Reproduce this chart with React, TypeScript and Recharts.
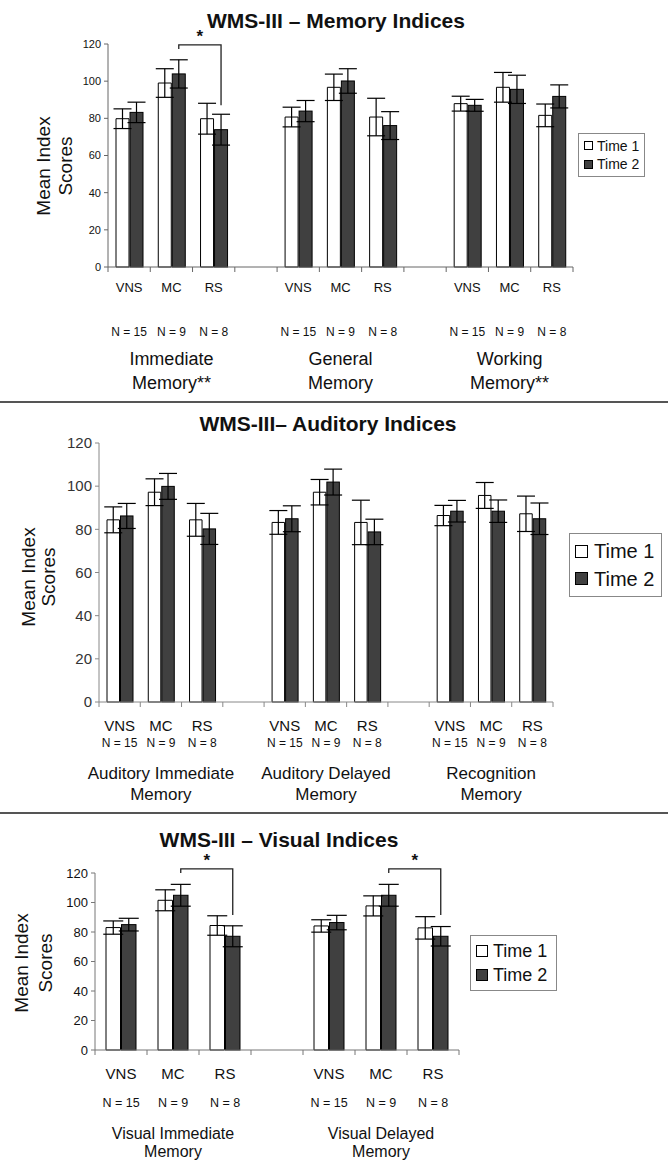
import React from 'react';
import { BarChart, Bar, XAxis, YAxis, ErrorBar, Legend } from 'recharts';

const FONT = 'Arial, "Liberation Sans", Helvetica, sans-serif';
const PAGE_W = 668;
const PAGE_H = 1161;

const categoryNames = ['VNS', 'MC', 'RS'];
const sampleSizes = ['N = 15', 'N = 9', 'N = 8'];
const yTicks = [0, 20, 40, 60, 80, 100, 120];
const seriesNames = ['Time 1', 'Time 2'];

type Bracket = { group: number; top: number; leftEnd: number; rightEnd: number };

// WMS-III Memory Indices
const memoryGroupNames = [['Immediate', 'Memory**'], ['General', 'Memory'], ['Working', 'Memory**']];
const memoryTime1 = [[79.8, 99.0, 79.8], [80.7, 96.7, 80.7], [87.9, 96.7, 81.6]];
const memoryTime2 = [[83.2, 103.9, 73.9], [83.9, 100.1, 76.1], [87.0, 95.6, 91.8]];
const memoryTime1Err = [[5.3, 7.7, 8.3], [5.3, 7.1, 10.1], [4.0, 8.0, 6.1]];
const memoryTime2Err = [[5.5, 7.6, 8.3], [5.7, 6.6, 7.5], [3.2, 7.6, 6.2]];
const memoryBrackets: Bracket[] = [{ group: 0, top: 119.5, leftEnd: 117.3, rightEnd: 87 }];

// WMS-III Auditory Indices
const auditoryGroupNames = [['Auditory Immediate', 'Memory'], ['Auditory Delayed', 'Memory'], ['Recognition', 'Memory']];
const auditoryTime1 = [[84.4, 97.2, 84.4], [83.2, 97.2, 83.2], [86.4, 95.7, 87.2]];
const auditoryTime2 = [[86.2, 99.9, 80.2], [84.9, 101.9, 78.8], [88.4, 88.4, 84.9]];
const auditoryTime1Err = [[6.0, 6.2, 7.6], [5.5, 5.9, 10.3], [4.7, 6.0, 8.2]];
const auditoryTime2Err = [[5.8, 6.0, 7.2], [6.0, 6.0, 5.9], [5.0, 5.2, 7.3]];
const auditoryBrackets: Bracket[] = [];

// WMS-III Visual Indices
const visualGroupNames = [['Visual Immediate', 'Memory'], ['Visual Delayed', 'Memory']];
const visualTime1 = [[83.0, 101.5, 84.4], [84.1, 97.7, 82.8]];
const visualTime2 = [[85.0, 104.9, 77.1], [86.4, 104.9, 77.1]];
const visualTime1Err = [[4.5, 7.1, 6.6], [4.2, 6.8, 7.6]];
const visualTime2Err = [[4.3, 7.4, 7.1], [4.9, 7.4, 6.6]];
const visualBrackets: Bracket[] = [
  { group: 0, top: 122.8, leftEnd: 120, rightEnd: 91.5 },
  { group: 1, top: 122.8, leftEnd: 120, rightEnd: 91.5 },
];

type Row = {
  key: string;
  cat: string;
  n: string;
  group: string[] | null;
  t1: number | null;
  t2: number | null;
  e1: number | null;
  e2: number | null;
  bracket: Bracket | null;
};

function buildRows(
  groupNames: string[][],
  t1: number[][],
  t2: number[][],
  e1: number[][],
  e2: number[][],
  brackets: Bracket[]
): Row[] {
  const rows: Row[] = [];
  groupNames.forEach((g, gi) => {
    categoryNames.forEach((c, ci) => {
      rows.push({
        key: `g${gi}c${ci}`,
        cat: c,
        n: sampleSizes[ci],
        group: ci === 1 ? g : null,
        t1: t1[gi][ci],
        t2: t2[gi][ci],
        e1: e1[gi][ci],
        e2: e2[gi][ci],
        bracket: ci === 1 ? brackets.find((b) => b.group === gi) ?? null : null,
      });
    });
    if (gi < groupNames.length - 1) {
      rows.push({ key: `gap${gi}`, cat: '', n: '', group: null, t1: null, t2: null, e1: null, e2: null, bracket: null });
    }
  });
  return rows;
}

type Cfg = {
  top: number;
  height: number;
  marginTop: number;
  marginRight: number;
  yAxisWidth: number;
  xAxisHeight: number;
  barSize: number;
  capWidth: number;
  axisColor: string;
  yTickFont: number;
  yTickColor: string;
  catFont: number;
  catDy: number;
  nFont: number;
  nDy: number;
  groupFont: number;
  groupDy1: number;
  groupDy2: number;
  legend: { left: number; top: number; width: number; height: number; font: number; marker: number; gap: number };
};

const memoryCfg: Cfg = {
  top: 0, height: 402, marginTop: 44, marginRight: 95, yAxisWidth: 108, xAxisHeight: 135,
  barSize: 13, capWidth: 9, axisColor: '#666', yTickFont: 11, yTickColor: '#111',
  catFont: 13, catDy: 20, nFont: 12, nDy: 65, groupFont: 18, groupDy1: 92, groupDy2: 116,
  legend: { left: 578, top: 133, width: 67, height: 44, font: 14, marker: 9, gap: 4 },
};
const auditoryCfg: Cfg = {
  top: 402, height: 411, marginTop: 41, marginRight: 115, yAxisWidth: 99, xAxisHeight: 111,
  barSize: 12.5, capWidth: 9, axisColor: '#888', yTickFont: 15, yTickColor: '#333',
  catFont: 15, catDy: 23, nFont: 12, nDy: 41, groupFont: 17, groupDy1: 71, groupDy2: 92,
  legend: { left: 569, top: 131, width: 93, height: 64, font: 20, marker: 13, gap: 6 },
};
const visualCfg: Cfg = {
  top: 813, height: 348, marginTop: 60, marginRight: 209, yAxisWidth: 95, xAxisHeight: 111,
  barSize: 14.5, capWidth: 10, axisColor: '#777', yTickFont: 13, yTickColor: '#111',
  catFont: 15, catDy: 23, nFont: 12.5, nDy: 53, groupFont: 16, groupDy1: 83, groupDy2: 101,
  legend: { left: 470, top: 122, width: 87, height: 56, font: 18, marker: 12, gap: 5 },
};

const memoryRows = buildRows(memoryGroupNames, memoryTime1, memoryTime2, memoryTime1Err, memoryTime2Err, memoryBrackets);
const auditoryRows = buildRows(auditoryGroupNames, auditoryTime1, auditoryTime2, auditoryTime1Err, auditoryTime2Err, auditoryBrackets);
const visualRows = buildRows(visualGroupNames, visualTime1, visualTime2, visualTime1Err, visualTime2Err, visualBrackets);

function LegendBox({ cfg }: { cfg: Cfg }) {
  const L = cfg.legend;
  const colors = ['#ffffff', '#404040'];
  return (
    <div
      style={{
        width: L.width,
        height: L.height,
        boxSizing: 'border-box',
        border: '1px solid #888',
        background: '#fff',
        display: 'flex',
        flexDirection: 'column',
        justifyContent: 'space-evenly',
        paddingLeft: 5,
        fontFamily: FONT,
        fontSize: L.font,
        color: '#111',
      }}
    >
      {seriesNames.map((s, i) => (
        <div key={s} style={{ display: 'flex', alignItems: 'center', lineHeight: 1 }}>
          <span
            style={{
              display: 'inline-block',
              width: L.marker,
              height: L.marker,
              boxSizing: 'border-box',
              border: '1px solid #000',
              background: colors[i],
              marginRight: L.gap,
            }}
          />
          <span>{s}</span>
        </div>
      ))}
    </div>
  );
}

function Panel({ cfg, rows }: { cfg: Cfg; rows: Row[] }) {
  const plotW = PAGE_W - cfg.marginRight - cfg.yAxisWidth;
  const slot = plotW / rows.length;

  const renderTick = (p: any) => {
    const idx = rows.findIndex((r) => r.key === p.payload.value);
    const row = rows[idx];
    const x = p.x;
    const y = p.y;
    if (!row) return <g />;
    return (
      <g fontFamily={FONT}>
        <line x1={x - slot / 2} x2={x - slot / 2} y1={y} y2={y + 5} stroke={cfg.axisColor} strokeWidth={1} />
        {idx === rows.length - 1 && (
          <line x1={x + slot / 2} x2={x + slot / 2} y1={y} y2={y + 5} stroke={cfg.axisColor} strokeWidth={1} />
        )}
        {row.cat && (
          <text x={x} y={y + cfg.catDy} textAnchor="middle" dominantBaseline="central" fontSize={cfg.catFont} fill="#111">
            {row.cat}
          </text>
        )}
        {row.n && (
          <text x={x} y={y + cfg.nDy} textAnchor="middle" dominantBaseline="central" fontSize={cfg.nFont} fill="#111">
            {row.n}
          </text>
        )}
        {row.group && (
          <g>
            <text x={x} y={y + cfg.groupDy1} textAnchor="middle" dominantBaseline="central" fontSize={cfg.groupFont} fill="#111">
              {row.group[0]}
            </text>
            <text x={x} y={y + cfg.groupDy2} textAnchor="middle" dominantBaseline="central" fontSize={cfg.groupFont} fill="#111">
              {row.group[1]}
            </text>
          </g>
        )}
      </g>
    );
  };

  const time2Shape = (props: any) => {
    const { x, y, width, height, payload } = props;
    const value = payload ? payload.t2 : null;
    if (value == null || !height) return <g />;
    const base = y + height;
    const k = height / value;
    const py = (v: number) => base - v * k;
    const cx = x + width / 2;
    const b: Bracket | null = payload.bracket;
    return (
      <g>
        <rect x={x} y={y} width={width} height={height} fill="#404040" stroke="#000" strokeWidth={1} />
        {b && (
          <g>
            <path
              d={`M${cx},${py(b.leftEnd)} V${py(b.top)} H${cx + slot} V${py(b.rightEnd)}`}
              fill="none"
              stroke="#222"
              strokeWidth={1.3}
            />
            <text
              x={cx + slot / 2}
              y={py(b.top) - 3}
              textAnchor="middle"
              fontFamily={FONT}
              fontWeight="bold"
              fontSize={17}
              fill="#111"
            >
              *
            </text>
          </g>
        )}
      </g>
    );
  };

  return (
    <div style={{ position: 'absolute', left: 0, top: cfg.top }}>
      <BarChart
        width={PAGE_W}
        height={cfg.height}
        data={rows}
        margin={{ top: cfg.marginTop, right: cfg.marginRight, bottom: 0, left: 0 }}
        barSize={cfg.barSize}
        barGap={1}
      >
        <XAxis
          dataKey="key"
          interval={0}
          height={cfg.xAxisHeight}
          tickLine={false}
          tickSize={0}
          tickMargin={0}
          axisLine={{ stroke: cfg.axisColor, strokeWidth: 1 }}
          tick={renderTick}
        />
        <YAxis
          type="number"
          domain={[0, 120]}
          ticks={yTicks}
          interval={0}
          width={cfg.yAxisWidth}
          tickSize={4}
          tickMargin={3}
          axisLine={{ stroke: cfg.axisColor, strokeWidth: 1 }}
          tickLine={{ stroke: cfg.axisColor, strokeWidth: 1 }}
          tick={{ fontSize: cfg.yTickFont, fill: cfg.yTickColor, fontFamily: FONT }}
        />
        <Legend
          layout="vertical"
          align="center"
          verticalAlign="middle"
          wrapperStyle={{ left: cfg.legend.left, top: cfg.legend.top, width: cfg.legend.width, height: cfg.legend.height }}
          content={() => <LegendBox cfg={cfg} />}
        />
        <Bar dataKey="t1" name={seriesNames[0]} fill="#ffffff" stroke="#000" strokeWidth={1} isAnimationActive={false}>
          <ErrorBar dataKey="e1" width={cfg.capWidth} stroke="#000" strokeWidth={1.2} />
        </Bar>
        <Bar dataKey="t2" name={seriesNames[1]} fill="#404040" stroke="#000" strokeWidth={1} shape={time2Shape} isAnimationActive={false}>
          <ErrorBar dataKey="e2" width={cfg.capWidth} stroke="#000" strokeWidth={1.2} />
        </Bar>
      </BarChart>
    </div>
  );
}

const titles = [
  { text: 'WMS-III \u2013 Memory Indices', x: 336, y: 20 },
  { text: 'WMS-III\u2013 Auditory Indices', x: 328, y: 423 },
  { text: 'WMS-III \u2013 Visual Indices', x: 279, y: 839 },
];
const yLabels = [
  { x1: 43, x2: 65, y: 166 },
  { x1: 28, x2: 48, y: 577 },
  { x1: 21, x2: 45, y: 963 },
];
const separators = [402, 813];

export default function App() {
  return (
    <div
      style={{
        position: 'absolute',
        left: 0,
        top: 0,
        width: PAGE_W,
        height: PAGE_H,
        background: '#fff',
        overflow: 'hidden',
        fontFamily: FONT,
      }}
    >
      <Panel cfg={memoryCfg} rows={memoryRows} />
      <Panel cfg={auditoryCfg} rows={auditoryRows} />
      <Panel cfg={visualCfg} rows={visualRows} />
      <svg
        width={PAGE_W}
        height={PAGE_H}
        style={{ position: 'absolute', left: 0, top: 0, pointerEvents: 'none' }}
        fontFamily={FONT}
      >
        {separators.map((y) => (
          <line key={y} x1={0} x2={PAGE_W} y1={y} y2={y} stroke="#555" strokeWidth={2} />
        ))}
        {titles.map((t) => (
          <text key={t.text} x={t.x} y={t.y} textAnchor="middle" dominantBaseline="central" fontSize={21} fontWeight="bold" fill="#111">
            {t.text}
          </text>
        ))}
        {yLabels.map((l, i) => (
          <g key={i}>
            <text
              x={l.x1}
              y={l.y}
              transform={`rotate(-90 ${l.x1} ${l.y})`}
              textAnchor="middle"
              dominantBaseline="central"
              fontSize={19}
              fill="#111"
            >
              Mean Index
            </text>
            <text
              x={l.x2}
              y={l.y}
              transform={`rotate(-90 ${l.x2} ${l.y})`}
              textAnchor="middle"
              dominantBaseline="central"
              fontSize={19}
              fill="#111"
            >
              Scores
            </text>
          </g>
        ))}
      </svg>
    </div>
  );
}
